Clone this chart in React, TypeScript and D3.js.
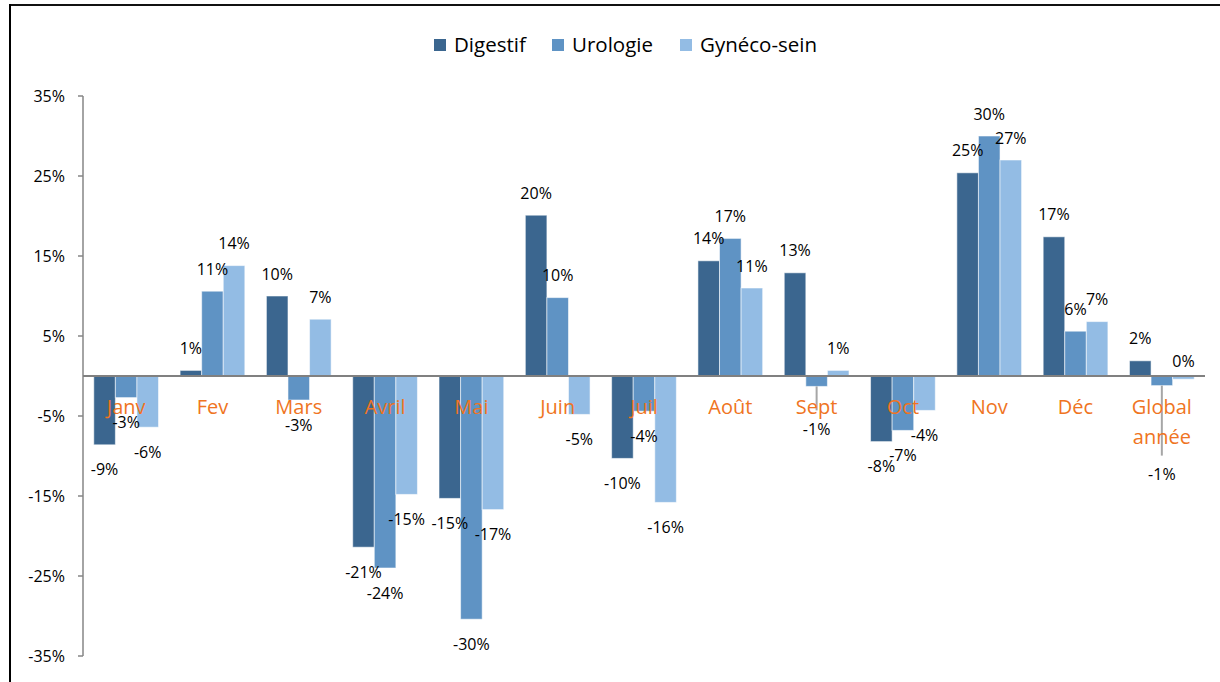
import React from "react";
import * as d3 from "d3";

const categories = ["Janv", "Fev", "Mars", "Avril", "Mai", "Juin", "Juil", "Août", "Sept", "Oct", "Nov", "Déc", "Global année"];
const seriesNames = ["Digestif", "Urologie", "Gynéco-sein"];
const digestif = [-8.6, 0.7, 10.0, -21.4, -15.3, 20.1, -10.3, 14.4, 12.9, -8.2, 25.4, 17.4, 1.9];
const urologie = [-2.7, 10.6, -3.0, -24.0, -30.4, 9.8, -4.4, 17.2, -1.3, -6.8, 30.0, 5.6, -1.2];
const gyneco = [-6.4, 13.8, 7.1, -14.8, -16.7, -4.8, -15.8, 11.0, 0.7, -4.3, 27.0, 6.8, -0.4];
const yTicks = [-35, -25, -15, -5, 5, 15, 25, 35];

const colors = ["#3B668F", "#5F93C4", "#93BCE4"];
const FONT = "'Open Sans', 'Liberation Sans', sans-serif";

// label placement tweaks (Excel moved some labels, with leader lines)
const labelOverride: Record<string, { dy: number; leader?: boolean; above?: boolean }> = {
  "1-8": { dy: 43, leader: true },
  "1-12": { dy: 89, leader: true },
  "2-12": { dy: -15, above: true },
};

export default function App() {
  const W = 1220, H = 682;
  const x = d3.scaleBand<string>().domain(categories).range([83, 1205]).paddingInner(0.25).paddingOuter(0.125);
  const xs = d3.scaleBand<string>().domain(seriesNames).range([0, x.bandwidth()]);
  const y = d3.scaleLinear().domain([-35, 35]).range([656, 96]);
  const data = [digestif, urologie, gyneco];
  const y0 = y(0);

  const legendItems = [
    { name: seriesNames[0], x: 434 },
    { name: seriesNames[1], x: 552 },
    { name: seriesNames[2], x: 680 },
  ];

  return (
    <svg width={W} height={H} style={{ position: "absolute", left: 0, top: 0, background: "#fff" }} fontFamily={FONT}>
      <rect x={0} y={0} width={W} height={H} fill="#fff" />
      {/* frame */}
      <line x1={9} x2={W} y1={5} y2={5} stroke="#111" strokeWidth={2} />
      <line x1={10} x2={10} y1={4} y2={H} stroke="#000" strokeWidth={2} />

      {/* legend */}
      {legendItems.map((l, i) => (
        <g key={l.name}>
          <rect x={l.x} y={39} width={12} height={12} fill={colors[i]} />
          <text x={l.x + 20} y={52} fontSize={20.5} fill="#000">{l.name}</text>
        </g>
      ))}

      {/* y axis */}
      <line x1={83} x2={83} y1={y(35)} y2={y(-35)} stroke="#868686" strokeWidth={1.5} />
      {yTicks.map((t) => (
        <g key={t}>
          <line x1={78} x2={83} y1={y(t)} y2={y(t)} stroke="#868686" strokeWidth={1.5} />
          <text x={65} y={y(t) + 5.5} fontSize={16} textAnchor="end" fill="#000">{t}%</text>
        </g>
      ))}

      {/* bars */}
      {data.map((vals, si) =>
        vals.map((v, ci) => {
          const bx = (x(categories[ci]) as number) + (xs(seriesNames[si]) as number);
          const top = Math.min(y(v), y0);
          const h = Math.abs(y(v) - y0);
          return (
            <rect key={`b${si}-${ci}`} x={bx} y={top} width={xs.bandwidth()} height={h}
              fill={colors[si]} stroke="rgba(255,255,255,0.55)" strokeWidth={1} />
          );
        })
      )}

      {/* zero axis */}
      <line x1={83} x2={1205} y1={y0} y2={y0} stroke="#808080" strokeWidth={2} />

      {/* leader lines */}
      {data.map((vals, si) =>
        vals.map((v, ci) => {
          const o = labelOverride[`${si}-${ci}`];
          if (!o || !o.leader) return null;
          const cx = (x(categories[ci]) as number) + (xs(seriesNames[si]) as number) + xs.bandwidth() / 2;
          const end = y(v);
          return <line key={`l${si}-${ci}`} x1={cx} x2={cx} y1={end} y2={end + o.dy - 19} stroke="#A6A6A6" strokeWidth={2} />;
        })
      )}

      {/* category labels */}
      {categories.map((c) => {
        const cx = (x(c) as number) + x.bandwidth() / 2;
        const parts = c.split(" ");
        return (
          <text key={c} x={cx} y={414} fontSize={20} textAnchor="middle" fill="#EF7422">
            {parts.map((p, i) => (
              <tspan key={i} x={cx} dy={i === 0 ? 0 : 30}>{p}</tspan>
            ))}
          </text>
        );
      })}

      {/* data labels */}
      {data.map((vals, si) =>
        vals.map((v, ci) => {
          const cx = (x(categories[ci]) as number) + (xs(seriesNames[si]) as number) + xs.bandwidth() / 2;
          const o = labelOverride[`${si}-${ci}`];
          let cy: number;
          if (o) cy = (o.above ? y0 : y(v)) + o.dy;
          else cy = v >= 0 ? y(v) - 22 : y(v) + 25;
          return (
            <text key={`t${si}-${ci}`} x={cx} y={cy + 5.5} fontSize={16} textAnchor="middle" fill="#000">
              {`${Math.round(v) === 0 ? 0 : Math.round(v)}%`}
            </text>
          );
        })
      )}
    </svg>
  );
}
